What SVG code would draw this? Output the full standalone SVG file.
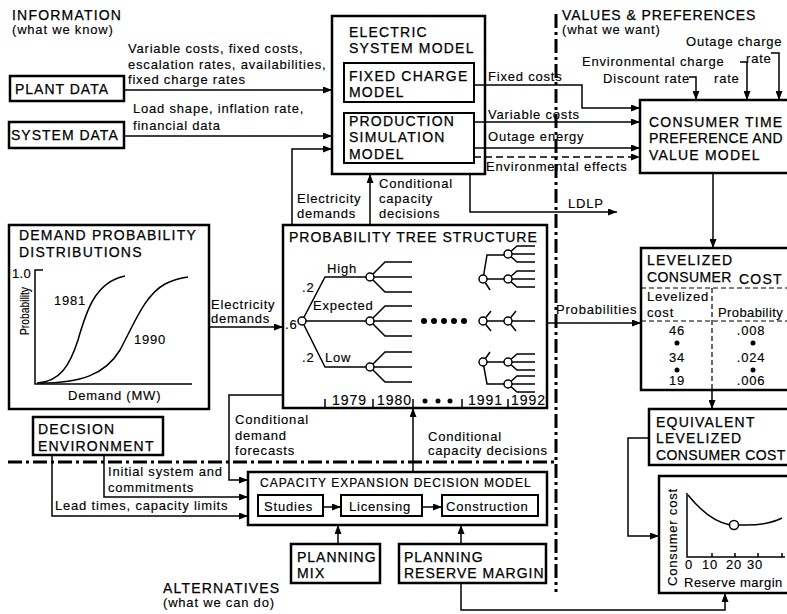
<svg xmlns="http://www.w3.org/2000/svg" width="787" height="614" viewBox="0 0 787 614">
<defs>
<marker id="a" markerWidth="9" markerHeight="7" refX="9" refY="3.5" orient="auto" markerUnits="userSpaceOnUse"><path d="M0,0 L9,3.5 L0,7 z" fill="#000"/></marker>
</defs>
<style>
text{font-family:"Liberation Sans",Arial,sans-serif;fill:#000}
.t{font-size:13px;letter-spacing:0.8px;stroke:#000;stroke-width:0.15}
.h{font-size:14px;letter-spacing:1.2px;stroke:#000;stroke-width:0.25}
.s{font-size:12px;letter-spacing:1px;stroke:#000;stroke-width:0.2}
.y{font-size:14px;letter-spacing:1px;stroke:#000;stroke-width:0.15}
.m{text-anchor:middle}
.box{fill:#fff;stroke:#000;stroke-width:2.5}
.ib{fill:none;stroke:#000;stroke-width:2}
.c{fill:none;stroke:#000;stroke-width:1.5}
.ca{fill:none;stroke:#000;stroke-width:1.5;marker-end:url(#a)}
.cd{fill:none;stroke:#000;stroke-width:1.5;stroke-dasharray:7 4;marker-end:url(#a)}
.dv{fill:none;stroke:#000;stroke-width:3;stroke-dasharray:14 4 3 4}
.tl{fill:none;stroke:#000;stroke-width:1.2;stroke-dasharray:5 3}
.nd{fill:#fff;stroke:#000;stroke-width:1.5}
.dot{fill:#000}
</style>
<rect width="787" height="614" fill="#fff"/>

<g id="dividers">
<path class="dv" d="M556,14 V592"/>
<path class="dv" d="M8,462 H556"/>
</g>

<g id="section-labels">
<text class="h" x="12" y="20">INFORMATION</text>
<text class="t" x="12" y="34">(what we know)</text>
<text class="h" x="562" y="20" style="letter-spacing:0.9px">VALUES &amp; PREFERENCES</text>
<text class="t" x="562" y="34">(what we want)</text>
<text class="h" x="163" y="593">ALTERNATIVES</text>
<text class="t" x="163" y="607">(what we can do)</text>
</g>

<g id="plant-data">
<rect class="box" x="10" y="76" width="114" height="25"/>
<text class="h" x="15" y="94" style="letter-spacing:1px">PLANT DATA</text>
</g>

<g id="system-data">
<rect class="box" x="9" y="122" width="115" height="26"/>
<text class="h" x="11" y="140" style="letter-spacing:1px">SYSTEM DATA</text>
</g>

<g id="electric-system-model">
<rect class="box" x="332" y="16" width="153" height="158"/>
<text class="h" x="349" y="37">ELECTRIC</text>
<text class="h" x="349" y="53">SYSTEM MODEL</text>
<g id="fixed-charge-model">
<rect class="ib" x="344" y="63" width="130" height="39"/>
<text class="h" x="349" y="81">FIXED CHARGE</text>
<text class="h" x="349" y="97">MODEL</text>
</g>
<g id="production-simulation-model">
<rect class="ib" x="344" y="113" width="130" height="50"/>
<text class="h" x="349" y="126">PRODUCTION</text>
<text class="h" x="349" y="142">SIMULATION</text>
<text class="h" x="349" y="159">MODEL</text>
</g>
</g>

<g id="consumer-time-preference">
<rect class="box" x="640" y="100" width="160" height="73"/>
<text class="h" x="649" y="127">CONSUMER TIME</text>
<text class="h" x="649" y="143" style="letter-spacing:0.4px">PREFERENCE AND</text>
<text class="h" x="649" y="160">VALUE MODEL</text>
</g>

<g id="demand-probability-distributions">
<rect class="box" x="9" y="225" width="200" height="184"/>
<text class="h" x="19" y="240">DEMAND PROBABILITY</text>
<text class="h" x="19" y="257">DISTRIBUTIONS</text>
<path class="c" d="M43,270 H35 V384 H192"/>
<text class="t" x="12" y="278" style="letter-spacing:0.3px">1.0</text>
<text class="t m" transform="translate(29,311) rotate(-90)" textLength="48" lengthAdjust="spacingAndGlyphs" style="font-size:12px;letter-spacing:0">Probability</text>
<path class="c" d="M37,383 C60,382 70,365 78,340 C86,312 95,282 125,276"/>
<path class="c" d="M40,383 C80,383 105,375 120,350 C135,322 145,295 165,284 C173,280 180,278 188,277"/>
<text class="t" x="54" y="305">1981</text>
<text class="t" x="134" y="344">1990</text>
<text class="t" x="68" y="400">Demand (MW)</text>
</g>

<g id="probability-tree-structure">
<rect class="box" x="283" y="225" width="264" height="183"/>
<text class="h" x="289" y="242" style="letter-spacing:1px">PROBABILITY TREE STRUCTURE</text>
<path class="c" d="M302,321 L325,277 H366 M306,321 H366 M302,321 L325,367 H366"/>
<path class="c" d="M370,277 L385,262 H412 M374,277 H412 M370,277 L385,292 H412"/>
<path class="c" d="M370,321 L385,306 H412 M374,321 H412 M370,321 L385,336 H412"/>
<path class="c" d="M370,367 L385,352 H412 M374,367 H412 M370,367 L385,382 H412"/>
<circle class="nd" cx="302" cy="321" r="4"/>
<circle class="nd" cx="370" cy="277" r="4"/>
<circle class="nd" cx="370" cy="321" r="4"/>
<circle class="nd" cx="370" cy="367" r="4"/>
<text class="t" x="285" y="329">.6</text>
<text class="t" x="302" y="292">.2</text>
<text class="t" x="302" y="362">.2</text>
<text class="t" x="327" y="273">High</text>
<text class="t" x="313" y="310">Expected</text>
<text class="t" x="325" y="362">Low</text>
<circle class="dot" cx="424" cy="321" r="3"/>
<circle class="dot" cx="434" cy="321" r="3"/>
<circle class="dot" cx="444" cy="321" r="3"/>
<circle class="dot" cx="454" cy="321" r="3"/>
<circle class="dot" cx="464" cy="321" r="3"/>
<path class="c" d="M483,279 L487,255 H504 M487,279 H504 M483,279 L490,290"/>
<path class="c" d="M508,254 L517,246 H535 M512,254 H535 M508,254 L517,262 H535"/>
<path class="c" d="M508,279 L517,271 H535 M512,279 H535 M508,279 L517,287 H535"/>
<path class="c" d="M483,321 L491,311 M483,321 L491,331 M487,321 H504 M508,321 L516,311 M508,321 L516,331 M512,321 H535"/>
<path class="c" d="M483,362 L490,352 M487,362 H504 M483,362 L487,384 H504"/>
<path class="c" d="M508,362 L517,354 H535 M512,362 H535 M508,362 L517,370 H535"/>
<path class="c" d="M508,384 L517,376 H535 M512,384 H535 M508,384 L517,392 H535"/>
<circle class="nd" cx="483" cy="279" r="4"/>
<circle class="nd" cx="508" cy="254" r="4"/>
<circle class="nd" cx="508" cy="279" r="4"/>
<circle class="nd" cx="483" cy="321" r="4"/>
<circle class="nd" cx="508" cy="321" r="4"/>
<circle class="nd" cx="483" cy="362" r="4"/>
<circle class="nd" cx="508" cy="362" r="4"/>
<circle class="nd" cx="508" cy="384" r="4"/>
<path class="c" d="M325,399 V408 M373,399 V408 M413,399 V408 M462,399 V408 M508,399 V408"/>
<text class="y" x="332" y="405">1979</text>
<text class="y" x="377" y="405">1980</text>
<circle class="dot" cx="425" cy="401" r="2.5"/>
<circle class="dot" cx="438" cy="401" r="2.5"/>
<circle class="dot" cx="450" cy="401" r="2.5"/>
<text class="y" x="468" y="405">1991</text>
<text class="y" x="511" y="405">1992</text>
</g>

<g id="levelized-consumer-cost">
<rect class="box" x="641" y="248" width="155" height="142"/>
<text class="h" x="647" y="265">LEVELIZED</text>
<text class="h" x="647" y="282" style="letter-spacing:0.4px">CONSUMER</text>
<text class="h" x="739" y="284">COST</text>
<path class="tl" d="M641,288 H796 M641,321 H796 M712,288 V390"/>
<text class="t" x="647" y="301">Levelized</text>
<text class="t" x="647" y="317">cost</text>
<text class="t" x="718" y="317" style="letter-spacing:0.4px">Probability</text>
<text class="t m" x="677" y="335">46</text>
<circle class="dot" cx="677" cy="343" r="2.5"/>
<text class="t m" x="677" y="362">34</text>
<circle class="dot" cx="677" cy="370" r="2.5"/>
<text class="t m" x="677" y="385">19</text>
<text class="t m" x="751" y="335">.008</text>
<circle class="dot" cx="753" cy="343" r="2.5"/>
<text class="t m" x="751" y="362">.024</text>
<circle class="dot" cx="753" cy="370" r="2.5"/>
<text class="t m" x="751" y="385">.006</text>
</g>

<g id="equivalent-levelized-consumer-cost">
<rect class="box" x="649" y="409" width="150" height="56"/>
<text class="h" x="656" y="427">EQUIVALENT</text>
<text class="h" x="656" y="443">LEVELIZED</text>
<text class="h" x="656" y="460" style="letter-spacing:0.4px">CONSUMER COST</text>
</g>

<g id="reserve-margin-graph">
<rect class="box" x="659" y="476" width="140" height="117"/>
<path class="c" d="M687,493 V557 H785 M712,553 V557 M735,553 V557 M758,553 V557 M782,553 V557"/>
<path class="c" d="M688,495 C700,510 715,522 730,525 L747,525 C760,525 772,523 782,518"/>
<circle class="nd" cx="734" cy="525" r="4.5"/>
<text class="t m" transform="translate(677,537) rotate(-90)">Consumer cost</text>
<text class="t m" x="689" y="569">0</text>
<text class="t m" x="710" y="569">10</text>
<text class="t m" x="734" y="569">20</text>
<text class="t m" x="755" y="569">30</text>
<text class="t" x="684" y="587" style="letter-spacing:0.5px">Reserve margin</text>
</g>

<g id="decision-environment">
<rect class="box" x="33" y="417" width="130" height="38"/>
<text class="h" x="38" y="434">DECISION</text>
<text class="h" x="38" y="451">ENVIRONMENT</text>
</g>

<g id="capacity-expansion-decision-model">
<rect class="box" x="248" y="472" width="299" height="53"/>
<text class="s" x="260" y="487">CAPACITY EXPANSION DECISION MODEL</text>
<g id="studies">
<rect class="ib" x="258" y="495" width="65" height="21"/>
<text class="t" x="264" y="511">Studies</text>
</g>
<g id="licensing">
<rect class="ib" x="341" y="495" width="81" height="21"/>
<text class="t" x="349" y="511">Licensing</text>
</g>
<g id="construction">
<rect class="ib" x="442" y="495" width="96" height="21"/>
<text class="t" x="446" y="511">Construction</text>
</g>
</g>

<g id="planning-mix">
<rect class="box" x="291" y="544" width="89" height="39"/>
<text class="h" x="297" y="562" style="letter-spacing:1px">PLANNING</text>
<text class="h" x="297" y="578">MIX</text>
</g>

<g id="planning-reserve-margin">
<rect class="box" x="399" y="544" width="147" height="39"/>
<text class="h" x="404" y="562" style="letter-spacing:1px">PLANNING</text>
<text class="h" x="404" y="578" style="letter-spacing:1px">RESERVE MARGIN</text>
</g>

<g id="connectors">
<path class="ca" d="M124,90 H332"/>
<path class="ca" d="M124,136 H332"/>
<path class="ca" d="M292,225 V149 H332"/>
<path class="ca" d="M370,225 V174"/>
<path class="ca" d="M474,85 H582 V108 H640"/>
<path class="ca" d="M474,122 H640"/>
<path class="ca" d="M474,148 H640"/>
<path class="cd" d="M474,157 H640"/>
<path class="ca" d="M470,174 V212 H617"/>
<path class="ca" d="M689,77 H696 V100"/>
<path class="ca" d="M740,62 H747 V100"/>
<path class="ca" d="M771,53 H779 V100"/>
<path class="ca" d="M713,173 V248"/>
<path class="ca" d="M547,323 H641"/>
<path class="ca" d="M712,390 V409"/>
<path class="ca" d="M649,438 H628 V536 H659"/>
<path class="ca" d="M461,583 V610 H725 V593"/>
<path class="ca" d="M209,327 H283"/>
<path class="ca" d="M283,395 H229 V480 H248"/>
<path class="ca" d="M413,472 V408"/>
<path class="ca" d="M104,455 V497 H248"/>
<path class="ca" d="M52,455 V516 H248"/>
<path class="ca" d="M323,507 H341"/>
<path class="ca" d="M422,507 H442"/>
<path class="ca" d="M338,544 V525"/>
<path class="ca" d="M461,544 V525"/>
<text class="t" x="128" y="53">Variable costs, fixed costs,</text>
<text class="t" x="128" y="69">escalation rates, availabilities,</text>
<text class="t" x="128" y="84">fixed charge rates</text>
<text class="t" x="133" y="113">Load shape, inflation rate,</text>
<text class="t" x="133" y="130">financial data</text>
<text class="t" x="297" y="203">Electricity</text>
<text class="t" x="297" y="218">demands</text>
<text class="t" x="379" y="188">Conditional</text>
<text class="t" x="379" y="203">capacity</text>
<text class="t" x="379" y="218">decisions</text>
<text class="t" x="488" y="81">Fixed costs</text>
<text class="t" x="488" y="119">Variable costs</text>
<text class="t" x="488" y="141">Outage energy</text>
<text class="t" x="486" y="171">Environmental effects</text>
<text class="t" x="568" y="208">LDLP</text>
<text class="t" x="686" y="46">Outage charge</text>
<text class="t" x="746" y="63">rate</text>
<text class="t" x="582" y="66">Environmental charge</text>
<text class="t" x="714" y="83">rate</text>
<text class="t" x="603" y="83">Discount rate</text>
<text class="t" x="556" y="314">Probabilities</text>
<text class="t" x="211" y="309">Electricity</text>
<text class="t" x="211" y="323">demands</text>
<text class="t" x="235" y="424">Conditional</text>
<text class="t" x="235" y="440">demand</text>
<text class="t" x="235" y="455">forecasts</text>
<text class="t" x="428" y="441">Conditional</text>
<text class="t" x="428" y="455">capacity decisions</text>
<text class="t" x="108" y="476">Initial system and</text>
<text class="t" x="108" y="492">commitments</text>
<text class="t" x="55" y="510">Lead times, capacity limits</text>
</g>
</svg>
